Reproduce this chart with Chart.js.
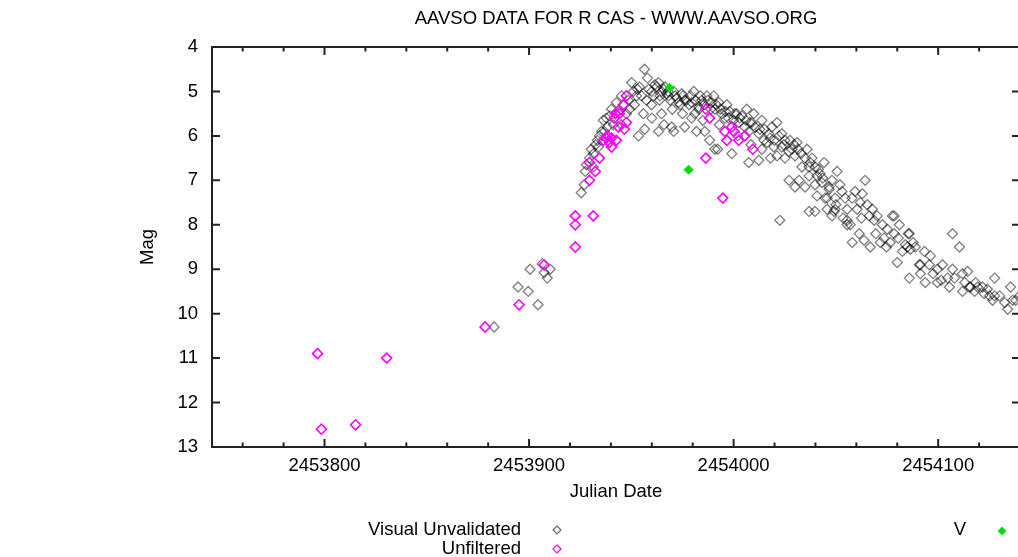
<!DOCTYPE html>
<html>
<head>
<meta charset="utf-8">
<script src="https://cdn.jsdelivr.net/npm/chart.js@4"></script>
<style>
  html, body { margin: 0; padding: 0; background: #fff; overflow: hidden; }
  #wrap { width: 1030px; height: 557px; }
</style>
</head>
<body>
<div id="wrap"><canvas id="lc" width="1030" height="557"></canvas></div>
<script>
// AAVSO light curve, R Cas - [julian date, magnitude]
const visualPoints = [
  [2453882.9,10.3],[2453894.6,9.4],[2453900.5,9.0],[2453899.6,9.5],[2453904.4,9.8],[2453906.4,8.88],[2453907.4,9.08],[2453908.9,9.2],[2453910.3,9.0],
  [2453925.5,7.28],[2453927.0,7.1],[2453927.5,6.8],[2453931.4,6.7],[2453931.4,6.4],[2453933.9,6.25],[2453935.4,5.9],[2453936.3,5.65],[2453937.8,5.6],
  [2453940.3,5.4],[2453942.7,5.25],[2453945.2,5.1],[2453950.1,4.8],[2453954.0,4.9],[2453956.4,4.5],[2453957.9,4.7],[2453952.5,5.1],[2453953.5,6.0],
  [2453963.3,5.9],[2453955.9,5.5],[2453959.9,5.0],[2453963.3,4.8],[2453964.8,5.5],[2453970.7,5.9],[2453969.7,5.8],[2453976.1,5.8],[2453981.9,5.9],
  [2453979.5,5.6],[2453964.8,5.0],[2453968.2,5.1],[2453973.1,5.25],[2453976.1,5.2],[2453980.5,5.0],[2453983.0,5.35],
  [2453962.3,4.9],[2453965.8,4.95],[2453967.2,5.05],[2453970.7,5.0],[2453972.1,5.15],[2453974.6,5.05],[2453977.0,5.2],[2453963.8,5.2],[2453959.9,5.3],
  [2453957.4,5.2],[2453955.0,5.1],[2453949.1,5.4],[2453951.5,5.3],[2453947.6,5.5],[2453945.2,5.75],[2453941.2,5.75],[2453938.3,5.8],[2453934.4,6.0],
  [2453933.4,6.1],[2453930.4,6.3],[2453929.5,6.5],[2453928.0,6.65],
  [2453979.5,5.25],[2453983.0,5.4],[2453984.4,5.2],[2453989.3,5.25],[2453992.7,5.25],[2453990.8,5.4],[2453994.2,5.5],[2453995.7,5.6],[2454000.6,5.5],
  [2454004.0,5.55],[2454008.0,5.7],[2454002.5,5.7],[2454005.5,5.8],[2454007.4,5.9],[2454012.3,5.95],[2454017.2,5.95],[2454014.8,6.1],[2454025.1,6.1],
  [2454019.7,6.25],[2454023.6,6.25],[2454028.5,6.3],[2454031.5,6.3],[2454025.1,6.5],[2454021.2,6.45],[2454030.0,6.45],[2454034.9,6.5],[2454033.4,6.7],
  [2454036.9,6.7],[2454039.8,6.7],[2454040.8,6.9],[2454036.9,6.9],[2454032.0,7.0],[2454027.1,7.0],[2454030.0,7.15],[2454034.9,7.15],[2454039.8,7.1],
  [2454046.7,7.15],[2454040.8,7.35],[2454045.7,7.4],[2453990.8,6.3],[2453999.1,6.4],[2454007.4,6.6],[2454012.3,6.55],[2453985.9,5.9],[2453988.3,6.1],
  [2454008.9,5.7],[2454012.8,5.85],[2454016.3,6.15],[2453981.0,5.5],[2454022.2,6.0],[2453992.2,6.3],[2454001.5,5.5],
  [2453986.9,5.1],[2453990.3,5.1],[2453996.7,5.3],[2453998.1,5.45],[2454006.4,5.4],[2454009.9,5.5],[2454013.8,5.65],[2454018.7,5.8],[2454021.2,5.7],
  [2454023.6,5.95],[2454027.6,6.1],[2454031.0,6.15],[2454013.8,6.3],
  [2454050.6,6.8],[2454064.3,7.0],[2454043.2,7.05],[2454046.7,7.2],[2454053.0,7.25],[2454059.4,7.25],[2454062.9,7.3],[2454044.7,7.4],[2454049.6,7.4],
  [2454054.5,7.4],[2454061.9,7.5],[2454045.7,7.65],[2454049.6,7.65],[2454055.5,7.65],[2454060.4,7.65],[2454048.1,7.8],[2454066.3,7.8],[2454068.7,7.9],
  [2454070.2,7.8],[2454077.6,7.8],[2454081.0,8.0],[2454055.5,8.0],[2454057.0,8.0],[2454061.4,8.2],[2454063.8,8.35],[2454058.0,8.4],[2454066.8,8.5],
  [2454071.7,8.4],[2454076.6,8.4],[2454078.5,8.2],[2454083.9,8.45],[2454085.9,8.2],[2454086.4,8.55],[2454080.0,8.85],[2454090.8,8.9],[2454022.6,7.9],
  [2454036.9,7.7],[2454039.8,7.7],[2454049.1,7.7],[2454055.5,7.9],[2454074.7,8.5],[2454078.5,7.8],[2454085.4,8.2],[2454084.9,8.5],[2454085.9,9.2],
  [2454088.8,8.5],[2454093.3,8.6],[2454096.2,8.7],[2454091.3,8.9],[2454095.7,8.9],[2454099.6,9.0],[2454102.1,8.9],[2454093.7,9.3],[2454099.6,9.3],
  [2454107.0,8.2],[2454110.4,8.5],[2454107.0,9.0],[2454108.0,9.2],[2454111.9,9.5],[2454115.3,9.4],[2454114.4,9.05],[2454118.3,9.3],[2454121.7,9.4],
  [2454125.1,9.6],[2454127.6,9.2],[2454127.6,9.6],[2454134.0,9.9],[2454135.4,9.4],[2454137.9,9.7],[2454139.8,9.6],[2454087.8,8.4],[2454091.3,9.1],
  [2454104.6,9.2],[2454111.9,9.1],[2454115.8,9.4],[2454119.3,9.4],[2454117.8,9.5],[2454124.1,9.45],[2454126.6,9.7],[2454136.4,9.7],
  [2454035.9,6.3],[2454038.3,6.5],[2454042.3,6.85],[2454044.2,6.6],[2454048.1,7.0],[2454052.0,7.1],[2454057.9,7.4],[2454065.3,7.55],[2454067.8,7.65],
  [2454072.7,8.0],[2454075.1,8.1],
  [2453958.5,4.95],[2453960.8,5.1],[2453961.5,4.85],[2453964.0,5.1],[2453966.5,4.9],[2453968.0,5.0],[2453969.0,5.2],[2453971.5,5.1],[2453973.8,5.3],
  [2453975.3,5.1],[2453978.2,5.3],[2453979.0,5.1],[2453981.5,5.2],[2453983.8,5.1],[2453985.5,5.3],[2453987.5,5.2],[2453988.8,5.4],[2453991.5,5.3],
  [2453993.5,5.4],[2453996.0,5.45],[2453997.5,5.6],[2454000.0,5.65],[2454003.0,5.6],[2454006.0,5.65],[2454010.5,5.8],[2454015.0,5.85],[2454017.8,6.05],
  [2454020.0,6.1],[2454024.5,6.2],[2454027.0,6.35],[2454029.5,6.2],[2454033.0,6.4],[2454037.5,6.6],[2454041.5,6.75],[2454043.5,6.95],[2453946.5,5.3],
  [2453948.5,5.2],[2453951.0,5.0],[2453953.0,4.95],[2453944.0,5.45],[2453939.5,5.55],[2453936.8,5.9],[2453932.5,6.2],[2453970.0,5.4],[2453975.0,5.5],
  [2453960.0,5.6],[2453956.5,5.85],[2453966.0,5.75],[2453985.0,5.65],[2453993.0,5.75],[2454002.0,6.0],[2454008.5,6.2],[2454018.0,6.5],[2454050.0,7.55],
  [2454053.5,7.85],[2454062.5,7.85],[2454069.5,8.2],[2454073.5,8.3],[2454080.5,8.3],[2454082.5,8.6],[2454097.5,9.1],[2454101.5,9.25],[2454105.5,9.4],
  [2454113.0,9.3],[2454122.5,9.55],[2454130.0,9.6],[2454132.5,9.75]
];

const unfilteredPoints = [
  [2453796.6,10.9],[2453798.5,12.6],[2453815.2,12.5],[2453830.4,11.0],[2453878.5,10.3],[2453895.1,9.8],[2453907.4,8.9],[2453922.6,8.5],
  [2453922.6,8.0],[2453922.6,7.8],[2453931.4,7.8],[2453929.5,7.0],[2453932.4,6.8],[2453929.5,6.6],[2453934.4,6.5],[2453936.3,6.1],[2453937.8,6.05],
  [2453939.3,6.15],[2453940.3,6.05],[2453942.7,6.1],[2453940.3,6.25],[2453943.7,5.8],[2453941.7,5.6],[2453944.2,5.5],[2453946.1,5.3],[2453947.6,5.1],
  [2453947.6,5.7],[2453946.6,5.85],[2453942.2,5.5],[2453938.3,6.0],[2453986.4,5.4],[2453988.3,5.6],[2453995.7,5.9],[2453999.1,5.8],[2453996.7,6.1],
  [2454000.1,5.9],[2454002.5,6.1],[2454005.5,6.0],[2454009.4,6.3],[2453986.4,6.5],[2453994.7,7.4]
];

const vPoints = [[2453968.7,4.92],[2453978.0,6.76]];

const seriesNames = ['Visual Unvalidated', 'Unfiltered', 'V'];
const seriesColors = ['rgba(0,0,0,0.5)', '#ff00ff', '#00dd00'];
const xMin = 2453745, xMax = 2454140, xStep = 20, xLabelStep = 100;
const yMin = 4, yMax = 13;

const FONT = "'Liberation Sans', Arial, sans-serif";
const FONT_SIZE = 18.5;
const toXY = arr => arr.map(p => ({ x: p[0], y: p[1] }));

// gnuplot style frame, inward ticks, title and legend
const decor = {
  id: 'decor',
  afterDatasetsDraw(chart) {
    const { ctx, chartArea: a, scales } = chart;
    const xs = scales.x, ys = scales.y;
    ctx.save();
    ctx.strokeStyle = '#222';
    ctx.lineWidth = 2;
    ctx.strokeRect(a.left, a.top, a.right - a.left, a.bottom - a.top);
    ctx.beginPath();
    for (let v = Math.ceil(xMin / xStep) * xStep; v <= xMax; v += xStep) {
      const px = xs.getPixelForValue(v);
      const len = v % xLabelStep === 0 ? 8 : 4.5;
      ctx.moveTo(px, a.bottom); ctx.lineTo(px, a.bottom - len);
      ctx.moveTo(px, a.top); ctx.lineTo(px, a.top + len);
    }
    for (let v = yMin; v <= yMax; v++) {
      const py = ys.getPixelForValue(v);
      ctx.moveTo(a.left, py); ctx.lineTo(a.left + 8, py);
      ctx.moveTo(a.right, py); ctx.lineTo(a.right - 8, py);
    }
    ctx.stroke();

    ctx.fillStyle = '#000';
    ctx.font = FONT_SIZE + 'px ' + FONT;
    ctx.textAlign = 'center';
    ctx.textBaseline = 'middle';
    ctx.fillText('AAVSO DATA FOR R CAS - WWW.AAVSO.ORG', (a.left + a.right) / 2, 19);
    ctx.fillText('Julian Date', (a.left + a.right) / 2, 492);
    ctx.save();
    ctx.translate(148, (a.top + a.bottom) / 2);
    ctx.rotate(-Math.PI / 2);
    ctx.fillText('Mag', 0, 0);
    ctx.restore();

    // legend
    const diamond = (x, y, r, color, fill) => {
      ctx.beginPath();
      ctx.moveTo(x, y - r); ctx.lineTo(x + r, y); ctx.lineTo(x, y + r); ctx.lineTo(x - r, y); ctx.closePath();
      if (fill) { ctx.fillStyle = color; ctx.fill(); }
      ctx.strokeStyle = color; ctx.lineWidth = 1.2; ctx.stroke();
    };
    ctx.textAlign = 'right';
    ctx.fillStyle = '#000';
    ctx.fillText(seriesNames[0], 521, 530);
    ctx.fillText(seriesNames[1], 521, 549);
    ctx.fillText(seriesNames[2], 966, 530);
    diamond(557, 530, 4, 'rgba(0,0,0,0.6)', false);
    diamond(557, 549, 4, seriesColors[1], false);
    diamond(1002, 531, 3.5, seriesColors[2], true);
    ctx.restore();
  }
};

new Chart(document.getElementById('lc'), {
  type: 'scatter',
  data: {
    datasets: [
      { label: seriesNames[2], data: toXY(vPoints), order: 0, pointStyle: 'rectRot', radius: 4.5,
        backgroundColor: seriesColors[2], borderColor: seriesColors[2], borderWidth: 1 },
      { label: seriesNames[1], data: toXY(unfilteredPoints), order: 1, pointStyle: 'rectRot', radius: 5,
        backgroundColor: 'rgba(0,0,0,0)', borderColor: seriesColors[1], borderWidth: 1.6 },
      { label: seriesNames[0], data: toXY(visualPoints), order: 2, pointStyle: 'rectRot', radius: 5,
        backgroundColor: 'rgba(0,0,0,0)', borderColor: seriesColors[0], borderWidth: 1.3 }
    ]
  },
  options: {
    responsive: false,
    animation: false,
    layout: { padding: { top: 47, right: 10, left: 0, bottom: 0 } },
    plugins: { legend: { display: false }, tooltip: { enabled: false }, title: { display: false } },
    scales: {
      x: {
        type: 'linear', min: xMin, max: xMax,
        grid: { display: false, drawTicks: false }, border: { display: false },
        ticks: {
          stepSize: xStep, includeBounds: false, autoSkip: false, maxRotation: 0, padding: 8,
          color: '#000', font: { family: FONT, size: FONT_SIZE },
          callback: v => (v % xLabelStep === 0 ? String(v) : '')
        },
        afterFit: s => { s.height = 110; }
      },
      y: {
        reverse: true, min: yMin, max: yMax,
        grid: { display: false, drawTicks: false }, border: { display: false },
        ticks: { stepSize: 1, padding: 14, color: '#000', font: { family: FONT, size: FONT_SIZE } },
        afterFit: s => { s.width = 212; }
      }
    }
  },
  plugins: [decor]
});
</script>
</body>
</html>
